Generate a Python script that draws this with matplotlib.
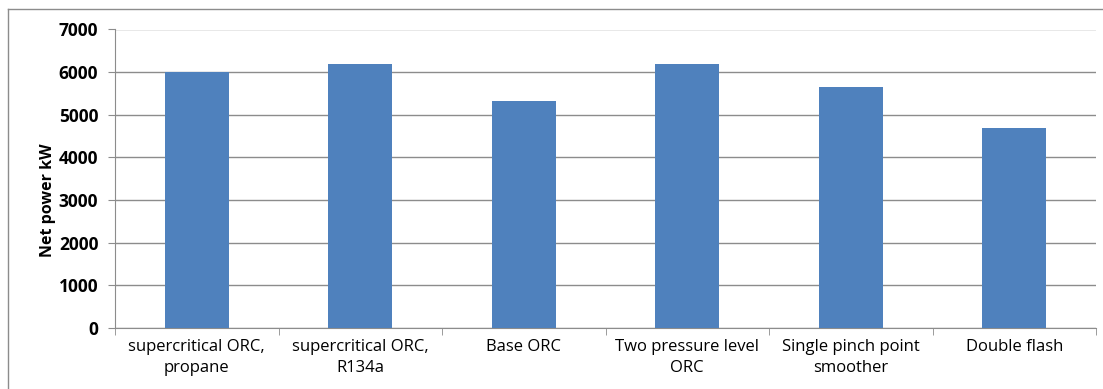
#!/usr/bin/env python

import numpy as np
import matplotlib
matplotlib.use('Agg')
import matplotlib.pyplot as plt
from matplotlib.lines import Line2D

###########################
## Data

categories = ['supercritical ORC,\npropane', 'supercritical ORC,\nR134a',
              'Base ORC', 'Two pressure level\nORC',
              'Single pinch point\nsmoother', 'Double flash']
net_power = [6000, 6190, 5320, 6190, 5660, 4690]
yticks = [0, 1000, 2000, 3000, 4000, 5000, 6000, 7000]

###########################

W, H = 1103, 389
fig = plt.figure(figsize=(W / 100., H / 100.), dpi=100)
plt.rcParams['font.family'] = ['Open Sans', 'DejaVu Sans']

ax = fig.add_axes([115. / W, 61. / H, (1096. - 115.) / W, (328. - 29.5) / H])

x = np.arange(len(categories))
ax.bar(x, net_power, width=0.39, color='#4F81BD', zorder=3)

ax.set_xlim(-0.5, len(categories) - 0.5)
ax.set_ylim(0, 7000)

## gridlines
ax.set_yticks(yticks)
ax.set_yticklabels([str(v) for v in yticks], fontweight='bold', fontsize=12.5)
ax.yaxis.grid(True, color='#8c8c8c', linewidth=1.0, zorder=0)
ax.tick_params(axis='y', length=5, color='#8c8c8c', pad=7)

## category labels at centres, ticks at boundaries
ax.set_xticks(x)
ax.set_xticklabels(categories, fontsize=12, linespacing=1.4)
ax.tick_params(axis='x', which='major', length=0, pad=8)
ax.set_xticks(np.arange(-0.5, len(categories)), minor=True)
ax.tick_params(axis='x', which='minor', length=5, color='#8c8c8c')

for s in ['top', 'right']:
    ax.spines[s].set_visible(False)
for s in ['left', 'bottom']:
    ax.spines[s].set_color('#8c8c8c')

fig.text(48. / W, 1 - 200. / H, 'Net power kW', rotation=90,
         fontweight='bold', fontsize=11.5, ha='center', va='center')

## outer chart border (only top and left visible)
fig.add_artist(Line2D([8. / W, 1.0], [1 - 9. / H, 1 - 9. / H],
                      color='#8c8c8c', linewidth=1.0, transform=fig.transFigure))
fig.add_artist(Line2D([8. / W, 8. / W], [0.0, 1 - 9. / H],
                      color='#8c8c8c', linewidth=1.0, transform=fig.transFigure))

fig.savefig('out.png', dpi=100)
